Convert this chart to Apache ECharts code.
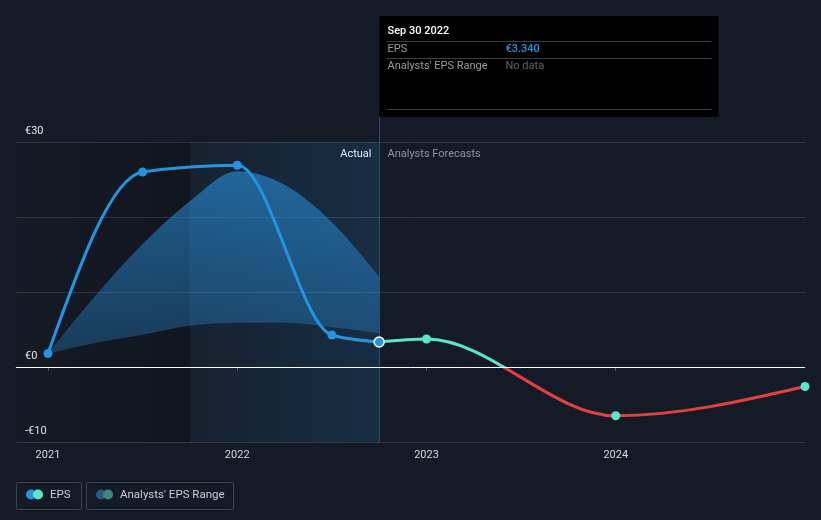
<!DOCTYPE html>
<html><head><meta charset="utf-8">
<script src="https://cdn.jsdelivr.net/npm/echarts@6/dist/echarts.min.js"></script>
<style>html,body{margin:0;padding:0;background:#151b26;}#c{width:821px;height:520px;}</style>
</head><body><div id="c"></div>
<script>
// x values are decimal years (2021.0 = Dec 31 2020, 2022.75 = Sep 30 2022)
const actualX = [2021.0, 2021.5, 2022.0, 2022.5, 2022.75];
const actualEPS = [1.8, 26.0, 26.9, 4.27, 3.34];
const forecastX = [2022.75, 2023.0, 2024.0, 2025.0];
const forecastEPS = [3.34, 3.73, -6.5, -2.6];
const rangeX = [2021.0, 2021.25, 2021.5, 2021.75, 2022.0, 2022.25, 2022.5, 2022.75];
const rangeLow = [1.8, 3.2, 4.3, 5.5, 5.9, 5.9, 5.3, 4.5];
const rangeHigh = [1.8, 9.5, 16.4, 22.1, 26.1, 24.3, 19.3, 12.0];
const yearTicks = [2021, 2022, 2023, 2024];
const yLabels = {30: '€30', 0: '€0', '-10': '-€10'};
const xMin = 2020.831, xMax = 2025.0, pastStart = 2021.75, nowX = 2022.75;

const FONT = 'Roboto, "Noto Sans", sans-serif';
const chart = echarts.init(document.getElementById('c'), null, {renderer: 'canvas'});
const pair = (xs, ys) => xs.map((x, i) => [x, ys[i]]);

// monotone-x cubic path through pixel points
function monoPath(pts, move) {
  const n = pts.length;
  const sgn = v => v < 0 ? -1 : 1;
  const t = new Array(n);
  const sl = [];
  for (let i = 0; i < n - 1; i++) sl.push((pts[i + 1][1] - pts[i][1]) / (pts[i + 1][0] - pts[i][0]));
  for (let i = 1; i < n - 1; i++) {
    const h0 = pts[i][0] - pts[i - 1][0], h1 = pts[i + 1][0] - pts[i][0];
    const s0 = sl[i - 1], s1 = sl[i];
    const p = (s0 * h1 + s1 * h0) / (h0 + h1);
    t[i] = (sgn(s0) + sgn(s1)) * Math.min(Math.abs(s0), Math.abs(s1), 0.5 * Math.abs(p)) || 0;
  }
  if (n > 2) {
    t[0] = (3 * sl[0] - t[1]) / 2;
    t[n - 1] = (3 * sl[n - 2] - t[n - 2]) / 2;
  } else { t[0] = t[1] = sl[0]; }
  let d = (move ? 'M' : 'L') + pts[0][0] + ',' + pts[0][1];
  for (let i = 0; i < n - 1; i++) {
    const dx = (pts[i + 1][0] - pts[i][0]) / 3;
    d += 'C' + (pts[i][0] + dx) + ',' + (pts[i][1] + dx * t[i]) + ' ' +
      (pts[i + 1][0] - dx) + ',' + (pts[i + 1][1] - dx * t[i + 1]) + ' ' + pts[i + 1][0] + ',' + pts[i + 1][1];
  }
  return d;
}
function reversePts(pts) { return pts.slice().reverse(); }
function monoPathRev(pts) {
  const m = pts.map(p => [-p[0], p[1]]);
  return monoPath(m, false).replace(/(-?[\d.]+),(-?[\d.e-]+)/g, (s, a, b) => (-parseFloat(a)) + ',' + b);
}

const option = {
  backgroundColor: '#151b26',
  animation: false,
  textStyle: {fontFamily: FONT},
  grid: {left: 16, right: 16, top: 142, bottom: 78, containLabel: false, outerBoundsMode: 'none'},
  xAxis: {
    type: 'value', min: xMin, max: xMax,
    axisLine: {show: true, lineStyle: {color: '#555b66', width: 1}},
    axisTick: {show: true, customValues: yearTicks, length: 4, lineStyle: {color: '#555b66'}},
    axisLabel: {customValues: yearTicks, color: '#d5d8dd', fontSize: 11, margin: 8, fontFamily: FONT,
      formatter: v => String(Math.round(v))},
    splitLine: {show: false}
  },
  yAxis: {
    type: 'value', min: -10, max: 30, interval: 10,
    axisLine: {show: false}, axisTick: {show: false},
    axisLabel: {inside: true, margin: 9, verticalAlign: 'bottom', padding: [0, 0, 5, 0],
      color: '#e6e8eb', fontSize: 11, fontFamily: FONT,
      formatter: v => yLabels[String(v)] || ''},
    splitLine: {show: true, lineStyle: {color: 'rgba(255,255,255,0.13)', width: 1}}
  },
  series: [
    {
      type: 'line', name: 'bg', data: [], silent: true,
      markArea: {silent: true, data: [
        [{xAxis: xMin, itemStyle: {color: {type: 'linear', x: 0, y: 0, x2: 1, y2: 0,
          colorStops: [{offset: 0, color: 'rgba(0,0,0,0.02)'}, {offset: 1, color: 'rgba(0,0,0,0.22)'}]}}},
         {xAxis: pastStart}],
        [{xAxis: pastStart, itemStyle: {color: {type: 'linear', x: 0, y: 0, x2: 1, y2: 0,
          colorStops: [{offset: 0, color: 'rgba(33,140,220,0.06)'}, {offset: 1, color: 'rgba(33,140,220,0.16)'}]}}},
         {xAxis: nowX}]
      ]},
      markLine: {silent: true, symbol: 'none', label: {show: false},
        lineStyle: {color: '#ffffff', width: 1, type: 'solid'}, data: [{yAxis: 0}]}
    },
    {
      type: 'custom', name: 'range', silent: true, z: 1,
      data: rangeX.map((x, i) => [x, rangeLow[i], rangeHigh[i]]),
      renderItem: function (params, api) {
        if (params.dataIndex !== 0) return null;
        const up = rangeX.map((x, i) => api.coord([x, rangeHigh[i]]));
        const lo = rangeX.map((x, i) => api.coord([x, rangeLow[i]]));
        const d = monoPath(up, true) + monoPathRev(reversePts(lo)) + 'Z';
        return {type: 'path', shape: {pathData: d}, style: {
          fill: {type: 'linear', x: 0, y: 0, x2: 0, y2: 1,
            colorStops: [{offset: 0, color: 'rgba(40,140,215,0.62)'}, {offset: 1, color: 'rgba(40,140,215,0.3)'}]},
          stroke: 'none'}};
      }
    },
    {
      type: 'custom', name: 'EPS', silent: true, z: 3,
      data: pair(actualX, actualEPS),
      renderItem: function (params, api) {
        if (params.dataIndex !== 0) return null;
        const pts = actualX.map((x, i) => api.coord([x, actualEPS[i]]));
        return {type: 'path', shape: {pathData: monoPath(pts, true)},
          style: {fill: 'none', stroke: '#2394df', lineWidth: 3, lineJoin: 'round', lineCap: 'round'}};
      }
    },
    {
      type: 'custom', name: 'forecast', silent: true, z: 3,
      data: pair(forecastX, forecastEPS),
      renderItem: function (params, api) {
        if (params.dataIndex !== 0) return null;
        const pts = forecastX.map((x, i) => api.coord([x, forecastEPS[i]]));
        const y0 = api.coord([forecastX[0], 0])[1];
        return {type: 'path', shape: {pathData: monoPath(pts, true)},
          style: {fill: 'none', lineWidth: 3, lineCap: 'round',
            stroke: {type: 'linear', global: true, x: 0, y: y0 - 1, x2: 0, y2: y0 + 1,
              colorStops: [{offset: 0, color: '#5ce6c9'}, {offset: 0.5, color: '#5ce6c9'},
                           {offset: 0.5, color: '#e2403f'}, {offset: 1, color: '#e2403f'}]}}};
      }
    },
    {
      type: 'scatter', name: 'EPSPts', data: pair(actualX, actualEPS).slice(0, 4),
      symbolSize: 9, itemStyle: {color: '#2394df', opacity: 1}, z: 4, silent: true
    },
    {
      type: 'scatter', name: 'forecastPts', data: pair(forecastX, forecastEPS).slice(1),
      symbolSize: 9, itemStyle: {color: '#5ce6c9', opacity: 1}, z: 4, silent: true
    },
    {
      type: 'scatter', name: 'now', data: [[actualX[4], actualEPS[4]]], silent: true,
      symbolSize: 10, itemStyle: {color: '#2394df', opacity: 1, borderColor: '#ffffff', borderWidth: 1.5}, z: 5
    }
  ]
};
chart.setOption(option);

const pNow = chart.convertToPixel({gridIndex: 0}, [nowX, 30]);
const pBot = chart.convertToPixel({gridIndex: 0}, [nowX, -10]);
const nx = Math.round(pNow[0]) + 0.5;
const tipX = nx, tipY = 16, tipW = 339, tipH = 101;
const txt = (x, y, s, color, extra) => Object.assign({type: 'text', x: x, y: y,
  style: Object.assign({text: s, fill: color, font: '12px ' + FONT, verticalAlign: 'middle', align: 'left'}, extra || {})});
const hline = (x1, x2, y, c) => ({type: 'line', shape: {x1: x1, y1: y, x2: x2, y2: y}, style: {stroke: c, lineWidth: 1}});

chart.setOption({graphic: [
  {type: 'line', shape: {x1: nx, y1: tipY + tipH, x2: nx, y2: pBot[1]}, style: {stroke: 'rgba(60,110,150,0.6)', lineWidth: 1}, z: 1},
  txt(nx - 8, pNow[1] + 12, 'Actual', '#ffffff', {align: 'right', font: '11px ' + FONT}),
  txt(nx + 8, pNow[1] + 12, 'Analysts Forecasts', '#8d939c', {font: '11px ' + FONT}),
  {type: 'rect', shape: {x: tipX, y: tipY, width: tipW, height: tipH}, style: {fill: '#000000'}, z: 10},
  Object.assign(txt(tipX + 8, 31, 'Sep 30 2022', '#ffffff', {font: '500 11px ' + FONT}), {z: 11}),
  Object.assign(hline(tipX + 7, tipX + 332, 41.5, '#3a3d42'), {z: 11}),
  Object.assign(txt(tipX + 8, 49, 'EPS', '#9a9fa7', {font: '11px ' + FONT}), {z: 11}),
  Object.assign(txt(tipX + 126, 49, '€3.340', '#2394df', {font: '500 11px ' + FONT}), {z: 11}),
  Object.assign(hline(tipX + 7, tipX + 332, 58.5, '#3a3d42'), {z: 11}),
  Object.assign(txt(tipX + 8, 66, "Analysts' EPS Range", '#9a9fa7', {font: '11px ' + FONT}), {z: 11}),
  Object.assign(txt(tipX + 126, 66, 'No data', '#62666d', {font: '11px ' + FONT}), {z: 11}),
  Object.assign(hline(tipX + 7, tipX + 332, 109.5, '#3a3d42'), {z: 11}),
  {type: 'rect', shape: {x: 16.5, y: 482.5, width: 65, height: 27, r: 2}, style: {fill: 'none', stroke: '#3d434d', lineWidth: 1}},
  {type: 'circle', shape: {cx: 31, cy: 494.5, r: 5}, style: {fill: '#2394df'}},
  {type: 'circle', shape: {cx: 38, cy: 494.5, r: 5}, style: {fill: '#5ce6c9'}},
  txt(50, 495, 'EPS', '#c9cdd3', {font: '11.5px ' + FONT}),
  {type: 'rect', shape: {x: 86.5, y: 482.5, width: 147, height: 27, r: 2}, style: {fill: 'none', stroke: '#3d434d', lineWidth: 1}},
  {type: 'circle', shape: {cx: 101, cy: 494.5, r: 5}, style: {fill: '#2a5a84'}},
  {type: 'circle', shape: {cx: 108, cy: 494.5, r: 5}, style: {fill: '#3b8880'}},
  txt(120, 495, "Analysts' EPS Range", '#c9cdd3', {font: '11.5px ' + FONT})
]});
</script></body></html>
